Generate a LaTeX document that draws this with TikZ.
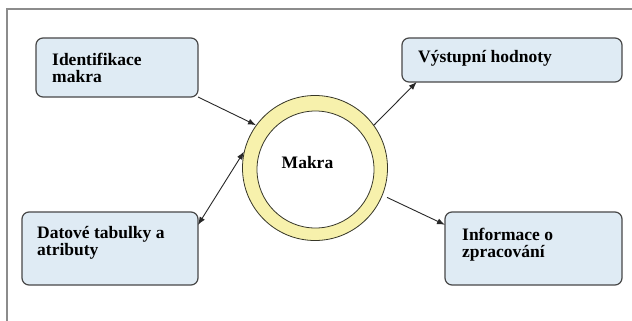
\documentclass[tikz,border=0pt]{standalone}
\usepackage{fontspec}
\setmainfont{Liberation Serif}
\newfontfamily\lblfont{Liberation Serif}[BoldFont={* Bold}]
\usetikzlibrary{arrows.meta,calc}
\definecolor{boxfill}{RGB}{223,235,244}
\definecolor{boxline}{RGB}{72,72,72}
\definecolor{ringfill}{RGB}{247,241,172}
\definecolor{ringline}{RGB}{55,55,40}
\definecolor{frameline}{RGB}{140,140,140}
\definecolor{arrline}{RGB}{40,40,40}
\begin{document}
\begin{tikzpicture}[x=1pt,y=-1pt,
  panel/.style={draw=boxline, fill=boxfill, rounded corners=7pt, line width=1.2pt,
                inner sep=0pt, outer sep=0pt},
  txt/.style={inner sep=0pt, font=\lblfont\bfseries\fontsize{17.5}{17}\selectfont},
  lbl/.style={txt, anchor=north west, align=left},
  arr/.style={draw=arrline, line width=0.9pt, -{Latex[length=8pt,width=6pt]}},
  darr/.style={draw=arrline, line width=0.9pt, {Latex[length=8pt,width=6pt]}-{Latex[length=8pt,width=6pt]}}]
\useasboundingbox (0,0) rectangle (632,321);
\fill[white] (0,0) rectangle (632,321);
% outer frame (top and left edges)
\draw[frameline, line width=1.5pt] (7,321) -- (7,9) -- (632,9);

% central ring
\node[circle, draw=ringline, fill=ringfill, line width=0.8pt, minimum size=145pt, inner sep=0pt] (ring) at (315,168) {};
\node[circle, draw=ringline, fill=white, line width=0.8pt, minimum size=117pt, inner sep=0pt] (hole) at (315.5,169.5) {};
\node[txt] (ringtext) at (307.5,162.5) {Makra};

% boxes
\node[panel, minimum width=162pt, minimum height=59pt] (idbox) at (117,67.5) {};
\node[panel, minimum width=220pt, minimum height=44pt] (outbox) at (512,60) {};
\node[panel, minimum width=176pt, minimum height=73pt] (databox) at (110,248.5) {};
\node[panel, minimum width=177pt, minimum height=73pt] (infobox) at (533.5,248.5) {};

% box texts
\node[lbl] (idtext) at (52,53.2) {Identifikace\\makra};
\node[lbl] (outtext) at (418,49.8) {Výstupní hodnoty};
\node[lbl] (datatext) at (37,225.8) {Datové tabulky a\\atributy};
\node[lbl] (infotext) at (462,228.2) {Informace o\\zpracování};

% connectors
\draw[arr] (idbox.south east) -- (ring.144);
\draw[darr] (databox.15) -- (ring.167);
\draw[arr] (ring.36) -- (outbox.193);
\draw[arr, shorten <=5pt] (ring.-22) -- (infobox.165);
\end{tikzpicture}
\end{document}
